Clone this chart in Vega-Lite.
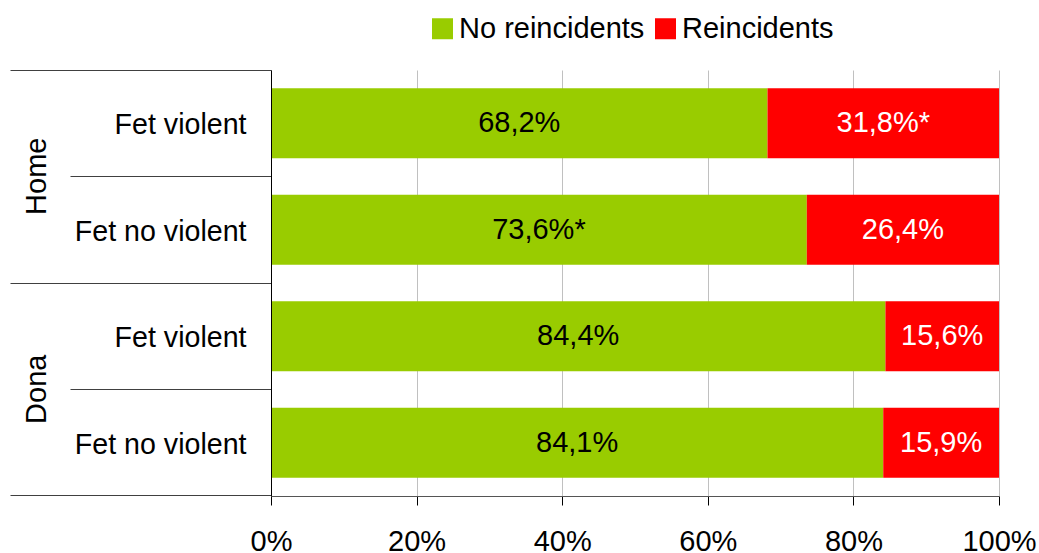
{
  "$schema": "https://vega.github.io/schema/vega-lite/v6.json",
  "width": 728,
  "height": 426,
  "autosize": {"type": "none"},
  "padding": {"left": 271, "top": 70, "right": 40, "bottom": 57},
  "config": {
    "view": {"stroke": null},
    "font": "Liberation Sans",
    "axis": {"labelFont": "Liberation Sans", "labelFontSize": 29, "labelColor": "#000000", "labelOverlap": false}
  },
  "data": {
    "values": [
      {"row": "Home|Fet violent", "series": "No reincidents", "pct": 68.2, "label": "68,2%"},
      {"row": "Home|Fet violent", "series": "Reincidents", "pct": 31.8, "label": "31,8%*"},
      {"row": "Home|Fet no violent", "series": "No reincidents", "pct": 73.6, "label": "73,6%*"},
      {"row": "Home|Fet no violent", "series": "Reincidents", "pct": 26.4, "label": "26,4%"},
      {"row": "Dona|Fet violent", "series": "No reincidents", "pct": 84.4, "label": "84,4%"},
      {"row": "Dona|Fet violent", "series": "Reincidents", "pct": 15.6, "label": "15,6%"},
      {"row": "Dona|Fet no violent", "series": "No reincidents", "pct": 84.1, "label": "84,1%"},
      {"row": "Dona|Fet no violent", "series": "Reincidents", "pct": 15.9, "label": "15,9%"}
    ]
  },
  "transform": [
    {"stack": "pct", "groupby": ["row"], "sort": [{"field": "series", "order": "ascending"}], "as": ["x0", "x1"]}
  ],
  "encoding": {
    "color": {
      "field": "series", "type": "nominal",
      "scale": {"domain": ["No reincidents", "Reincidents"], "range": ["#99CC00", "#FF0000"]},
      "legend": {
        "orient": "none", "legendX": 157, "legendY": -56, "direction": "horizontal",
        "title": null, "symbolType": "square", "symbolSize": 441, "symbolStrokeWidth": 0,
        "symbolOpacity": 1, "labelFontSize": 29, "labelFont": "Liberation Sans", "labelColor": "#000000",
        "labelOffset": 2, "columnPadding": 6, "padding": 0, "labelLimit": 0
      }
    }
  },
  "layer": [
    {
      "transform": [{"filter": "datum.series === 'No reincidents'"}],
      "mark": {"type": "bar"},
      "encoding": {
        "x": {
          "field": "x0", "type": "quantitative",
          "scale": {"domain": [0, 100], "nice": false},
          "axis": {
            "title": null, "values": [0, 20, 40, 60, 80, 100], "labelExpr": "datum.value + '%'",
            "grid": true, "gridColor": "#c0c0c0", "gridWidth": 1,
            "domainColor": "#555555", "tickColor": "#000000", "tickSize": 9,
            "labelPadding": 22, "labelFontSize": 29, "labelFlush": false
          }
        },
        "x2": {"field": "x1"},
        "y": {
          "field": "row", "type": "nominal",
          "scale": {"type": "band", "domain": ["Home|Fet violent", "Home|Fet no violent", "Dona|Fet violent", "Dona|Fet no violent"], "paddingInner": 0.343, "paddingOuter": 0.1715},
          "axis": {
            "title": null, "orient": "left", "ticks": false, "domain": true, "domainColor": "#000000",
            "grid": false, "labelExpr": "split(datum.value, '|')[1]", "labelPadding": 25, "labelOffset": 2,
            "labelFontSize": 28.6, "zindex": 1
          }
        }
      }
    },
    {
      "transform": [{"filter": "datum.series === 'Reincidents'"}],
      "mark": {"type": "bar"},
      "encoding": {
        "x": {
          "field": "x0", "type": "quantitative",
          "scale": {"domain": [0, 100], "nice": false},
          "axis": {
            "title": null, "values": [0, 20, 40, 60, 80, 100], "labelExpr": "datum.value + '%'",
            "grid": true, "gridColor": "#c0c0c0", "gridWidth": 1,
            "domainColor": "#555555", "tickColor": "#000000", "tickSize": 9,
            "labelPadding": 22, "labelFontSize": 29, "labelFlush": false
          }
        },
        "x2": {"field": "x1"},
        "y": {
          "field": "row", "type": "nominal",
          "scale": {"type": "band", "domain": ["Home|Fet violent", "Home|Fet no violent", "Dona|Fet violent", "Dona|Fet no violent"], "paddingInner": 0.343, "paddingOuter": 0.1715},
          "axis": {
            "title": null, "orient": "left", "values": ["Dona|Fet no violent"], "bandPosition": 1.261,
            "ticks": true, "tickSize": 261, "tickColor": "#404040", "labels": false, "domain": false, "grid": false
          }
        }
      }
    },
    {
      "transform": [
        {"filter": "datum.series === 'No reincidents'"},
        {"fold": ["x0", "x1"], "as": ["edge", "pos"]},
        {"aggregate": [{"op": "mean", "field": "pos", "as": "xmid"}], "groupby": ["row", "series", "label"]}
      ],
      "mark": {"type": "text", "fontSize": 29, "font": "Liberation Sans"},
      "encoding": {
        "x": {
          "field": "xmid", "type": "quantitative",
          "scale": {"domain": [0, 100], "nice": false},
          "axis": {
            "title": null, "values": [0, 20, 40, 60, 80, 100], "labelExpr": "datum.value + '%'",
            "grid": true, "gridColor": "#c0c0c0", "gridWidth": 1,
            "domainColor": "#555555", "tickColor": "#000000", "tickSize": 9,
            "labelPadding": 22, "labelFontSize": 29, "labelFlush": false
          }
        },
        "y": {
          "field": "row", "type": "nominal",
          "scale": {"type": "band", "domain": ["Home|Fet violent", "Home|Fet no violent", "Dona|Fet violent", "Dona|Fet no violent"], "paddingInner": 0.343, "paddingOuter": 0.1715},
          "axis": {
            "title": null, "orient": "left", "values": ["Home|Fet violent", "Dona|Fet violent"], "bandPosition": 1.261,
            "ticks": true, "tickSize": 201, "tickColor": "#404040", "domain": false, "grid": false,
            "labelExpr": "split(datum.value, '|')[0]", "labelAngle": -90, "labelAlign": "center",
            "labelBaseline": "alphabetic", "labelPadding": 25, "labelOffset": 53, "labelFontSize": 29
          }
        },
        "text": {"field": "label"},
        "color": {"value": "#000000"}
      }
    },
    {
      "transform": [
        {"filter": "datum.series === 'Reincidents'"},
        {"fold": ["x0", "x1"], "as": ["edge", "pos"]},
        {"aggregate": [{"op": "mean", "field": "pos", "as": "xmid"}], "groupby": ["row", "series", "label"]}
      ],
      "mark": {"type": "text", "fontSize": 29, "font": "Liberation Sans"},
      "encoding": {
        "x": {
          "field": "xmid", "type": "quantitative",
          "scale": {"domain": [0, 100], "nice": false},
          "axis": {
            "title": null, "values": [0, 20, 40, 60, 80, 100], "labelExpr": "datum.value + '%'",
            "grid": true, "gridColor": "#c0c0c0", "gridWidth": 1,
            "domainColor": "#555555", "tickColor": "#000000", "tickSize": 9,
            "labelPadding": 22, "labelFontSize": 29, "labelFlush": false
          }
        },
        "y": {
          "field": "row", "type": "nominal",
          "scale": {"type": "band", "domain": ["Home|Fet violent", "Home|Fet no violent", "Dona|Fet violent", "Dona|Fet no violent"], "paddingInner": 0.343, "paddingOuter": 0.1715},
          "axis": {
            "title": null, "orient": "left", "values": ["Home|Fet violent", "Dona|Fet violent"], "bandPosition": -0.261,
            "ticks": true, "tickSize": 261, "tickColor": "#404040", "labels": false, "domain": false, "grid": false
          }
        },
        "text": {"field": "label"},
        "color": {"value": "#FFFFFF"}
      }
    }
  ],
  "resolve": {"axis": {"y": "independent"}}
}
